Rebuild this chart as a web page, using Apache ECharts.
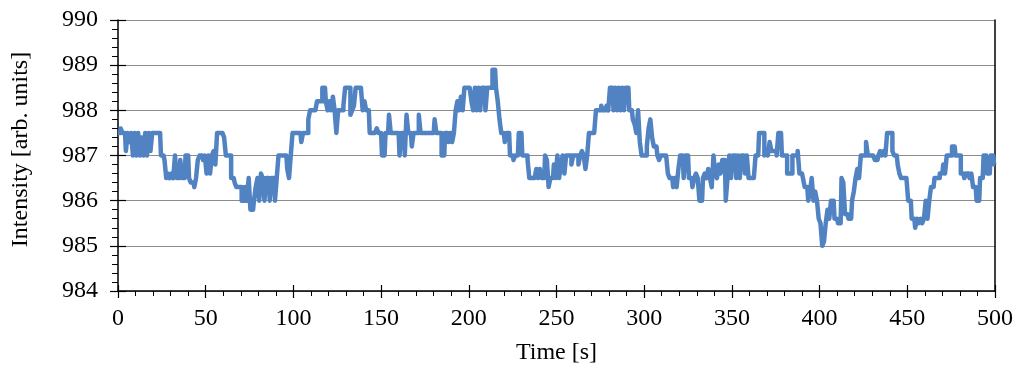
<!DOCTYPE html>
<html>
<head>
<meta charset="utf-8">
<script src="https://cdn.jsdelivr.net/npm/echarts@6/dist/echarts.min.js"></script>
<style>html,body{margin:0;padding:0;background:#fff}#c{width:1024px;height:378px}</style>
</head>
<body>
<div id="c"></div>
<script>
// Sampling step (s) of the intensity readings
const sampleStep = 1;
// Intensity readings, one per second from t = 0 s to t = 500 s
const intensity0 = [
 987.5,987.5,987.6,987.5,987.5,987.1,987.5,987.3,987.5,987.0,
 987.5,987.0,987.5,987.0,987.4,987.0,987.5,987.0,987.5,987.1,
 987.5,987.5,987.5,987.5,987.5,987.0,987.0,986.9,986.5,986.6,
 986.5,986.6,986.5,987.0,986.5,986.5,986.9,986.5,986.5,987.0,
 987.0,986.5,986.4,986.4,986.3,986.5,986.9,987.0,987.0,986.9,
 987.0,986.6,987.0,986.6,987.0,987.1,986.8,987.5,987.5,987.5,
 987.5,987.4,987.0,987.0,987.0,986.5,986.5,986.4,986.3,986.3,
 986.3,986.0,986.0,986.3,986.0,986.5,985.8,985.8,986.0,986.3,
 986.5,986.0,986.6,986.5,986.0,986.5,986.5,986.0,986.5,986.5,
 986.0,986.5,987.0,987.0,987.0,987.0,987.0,986.7,986.5,987.0
];
const intensity1 = [
 987.5,987.5,987.5,987.5,987.5,987.3,987.5,987.5,987.5,987.8,
 988.0,988.0,988.0,988.0,988.2,988.2,988.2,988.5,988.5,988.2,
 988.0,988.2,988.0,988.3,988.0,987.5,988.0,988.0,988.0,988.1,
 988.5,988.5,988.5,987.9,988.0,988.1,988.5,988.5,988.5,988.5,
 988.0,988.2,988.0,988.0,987.5,987.5,987.5,987.5,987.6,987.5,
 987.5,987.0,987.0,987.5,987.5,987.9,987.5,987.5,987.5,987.5,
 987.5,987.0,987.5,987.5,987.0,987.9,987.5,987.5,987.2,987.5,
 987.5,987.5,987.9,987.5,987.5,987.5,987.5,987.5,987.5,987.5,
 987.5,987.8,987.5,987.5,987.5,987.0,987.0,987.5,987.5,987.3,
 987.5,987.3,987.5,988.0,988.2,988.0,988.3,988.0,988.5,988.5
];
const intensity2 = [
 988.5,988.5,988.2,988.0,988.5,988.0,988.5,988.0,988.5,988.5,
 988.0,988.5,988.5,988.5,988.9,988.9,988.5,988.2,987.8,987.5,
 987.5,987.3,987.5,987.5,987.0,987.0,986.9,987.0,987.0,987.5,
 987.5,987.0,987.0,987.0,986.9,986.5,986.5,986.5,986.5,986.7,
 986.5,986.7,986.5,986.5,987.0,986.9,986.3,986.5,986.5,986.8,
 986.5,987.0,986.5,986.8,987.0,986.6,987.0,987.0,987.0,986.8,
 987.0,987.0,987.0,986.8,987.0,987.1,987.0,986.7,987.0,987.5,
 987.5,987.5,987.5,988.0,988.0,988.0,988.1,988.0,988.0,988.1,
 988.0,988.5,988.5,988.0,988.5,988.0,988.5,988.0,988.5,988.0,
 988.5,988.5,988.0,988.0,987.8,987.7,987.5,988.0,987.3,987.0
];
const intensity3 = [
 987.0,987.0,987.2,987.6,987.8,987.4,987.2,987.2,987.0,986.9,
 987.0,987.0,987.0,987.0,986.6,986.5,986.5,986.3,986.5,986.3,
 986.7,987.0,987.0,986.5,987.0,987.0,986.5,986.5,986.3,986.5,
 986.6,986.5,986.0,986.0,986.5,986.6,986.5,986.7,986.5,986.3,
 987.0,986.6,986.5,986.8,986.6,986.9,986.9,986.0,986.5,987.0,
 986.5,987.0,987.0,986.5,987.0,986.5,987.0,987.0,986.6,987.0,
 986.5,986.5,986.5,986.5,987.0,987.0,987.5,987.5,987.5,987.0,
 987.1,987.0,987.3,987.1,987.1,987.1,987.0,987.5,987.5,987.0,
 987.0,987.0,986.6,986.6,986.6,987.0,987.0,987.0,987.1,986.6,
 986.6,986.5,986.3,986.3,986.0,986.2,986.5,986.0,986.2,986.0
];
const intensity4 = [
 985.6,985.5,985.0,985.1,985.5,985.8,985.6,986.0,986.0,985.6,
 985.6,985.5,985.5,986.5,986.4,985.7,985.7,985.6,985.6,986.0,
 986.2,986.5,986.7,986.5,987.0,987.0,987.0,987.3,987.0,987.0,
 987.0,987.0,986.9,986.9,987.0,987.1,987.0,987.1,987.0,987.5,
 987.5,987.5,987.1,987.0,987.0,986.8,986.6,986.5,986.5,986.5,
 986.5,986.0,986.0,985.6,985.6,985.4,985.6,985.5,985.6,985.5,
 985.6,986.0,985.6,986.0,986.3,986.3,986.5,986.5,986.5,986.6,
 986.6,986.8,986.6,987.0,987.0,987.0,987.2,987.2,987.0,987.0,
 987.0,986.6,986.6,986.5,986.6,986.6,986.5,986.6,986.3,986.3,
 986.0,986.0,986.5,986.5,987.0,987.0,986.6,986.6,987.0,987.0,
 986.8
];
const xTicks = { min: 0, max: 500, interval: 50 };
const yTicks = { min: 984, max: 990, interval: 1 };
const xTitle = 'Time [s]';
const yTitle = 'Intensity [arb. units]';

const intensity = intensity0.concat(intensity1, intensity2, intensity3, intensity4);
const seriesData = intensity.map((v, i) => [i * sampleStep, v]);

const font = 'Liberation Serif';
const chart = echarts.init(document.getElementById('c'), null, { renderer: 'canvas' });
const axisLine = { show: true, lineStyle: { color: '#000', width: 1.5 } };
chart.setOption({
  animation: false,
  backgroundColor: '#fff',
  grid: { left: 118, right: 29, top: 20, bottom: 87, containLabel: false },
  xAxis: [
    {
      type: 'value', min: xTicks.min, max: xTicks.max, interval: xTicks.interval,
      name: xTitle, nameLocation: 'middle', nameGap: 50,
      nameTextStyle: { fontFamily: font, fontSize: 24, color: '#000' },
      axisLine: axisLine,
      axisTick: { show: true, length: 7, lineStyle: { color: '#000', width: 1.2 } },
      minorTick: { show: true, splitNumber: 5, length: 5, lineStyle: { color: '#000', width: 1 } },
      axisLabel: { fontFamily: font, fontSize: 24, color: '#000', margin: 16 },
      splitLine: { show: false }
    },
    {
      type: 'value', min: xTicks.min, max: xTicks.max, interval: xTicks.interval,
      position: 'bottom',
      axisLine: { show: false },
      axisTick: { show: true, inside: true, length: 6, lineStyle: { color: '#000', width: 1.2 } },
      axisLabel: { show: false },
      splitLine: { show: false }
    }
  ],
  yAxis: [
    {
      type: 'value', min: yTicks.min, max: yTicks.max, interval: yTicks.interval,
      name: yTitle, nameLocation: 'middle', nameGap: 85,
      nameTextStyle: { fontFamily: font, fontSize: 24, color: '#000', padding: [0, 0, 0, 12] },
      axisLine: axisLine,
      axisTick: { show: true, length: 8, lineStyle: { color: '#000', width: 1.2 } },
      minorTick: { show: true, splitNumber: 5, length: 6, lineStyle: { color: '#000', width: 1 } },
      axisLabel: { fontFamily: font, fontSize: 24, color: '#000', margin: 20 },
      splitLine: { show: true, lineStyle: { color: '#8c8c8c', width: 1.2 } }
    },
    {
      type: 'value', min: yTicks.min, max: yTicks.max, interval: yTicks.interval,
      position: 'left',
      axisLine: { show: false },
      axisTick: { show: true, inside: true, length: 8, lineStyle: { color: '#000', width: 1.2 } },
      axisLabel: { show: false },
      splitLine: { show: false }
    },
    {
      type: 'value', min: yTicks.min, max: yTicks.max, interval: yTicks.interval,
      position: 'right',
      axisLine: axisLine,
      axisTick: { show: false },
      axisLabel: { show: false },
      splitLine: { show: false }
    }
  ],
  series: [{
    type: 'line',
    data: seriesData,
    xAxisIndex: 0, yAxisIndex: 0,
    step: 'middle',
    showSymbol: false,
    lineStyle: { color: '#5183C3', width: 4.5, join: 'round' },
    z: 3
  }]
});
</script>
</body>
</html>
